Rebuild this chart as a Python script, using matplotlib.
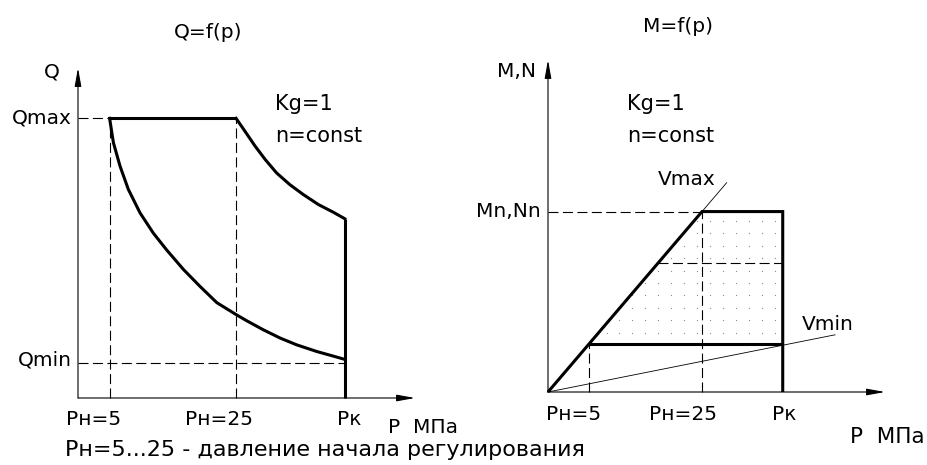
import numpy as np
import matplotlib.pyplot as plt
from matplotlib.patches import Polygon

plt.rcParams['font.family'] = 'DejaVu Sans'
plt.rcParams['font.size'] = 14.5

W, H = 928, 465

# ---- left chart: Q = f(p) ----
p_left = [5, 25, 42.2]                      # Pн=5, Pн=25, Pк
p_left_labels = ['Рн=5', 'Рн=25', 'Рк']
q_max = 1.0
q_min = 0.125
q_upper_p = [25, 26.4, 28.0, 29.6, 31.4, 33.5, 35.6, 38.0, 40.4, 42.2]
q_upper = [1.0, 0.954, 0.901, 0.853, 0.805, 0.763, 0.728, 0.692, 0.664, 0.641]
q_lower_p = [5, 5.6, 6.65, 7.96, 9.81, 11.9, 14.0, 16.7, 19.3, 21.95, 25.1,
             26.7, 29.3, 32.0, 34.6, 37.8, 40.5, 42.2]
q_lower = [1.0, 0.913, 0.829, 0.746, 0.662, 0.590, 0.530, 0.459, 0.399, 0.341, 0.297,
           0.276, 0.244, 0.214, 0.190, 0.166, 0.149, 0.138]

# ---- right chart: M = f(p) ----
p_right = [6.65, 25, 38.1]
p_right_labels = ['Рн=5', 'Рн=25', 'Рк']
m_n = 1.0
m_low = 0.266
m_mid = 0.717
vmax_end = (29.0, 1.16)
vmin_end = (46.6, 0.317)

dash = (0, (9, 4))


def px(x, y):
    """pixel position -> figure fraction"""
    return x / W, 1 - y / H


def arrows(ax):
    ax.set_axis_off()
    kw = dict(arrowstyle='-|>,head_length=0.55,head_width=0.1', lw=0.8,
              color='k', mutation_scale=20, shrinkA=0, shrinkB=0)
    ax.annotate('', xy=(1, 0), xytext=(0, 0), xycoords='axes fraction', arrowprops=kw)
    ax.annotate('', xy=(0, 1), xytext=(0, 0), xycoords='axes fraction', arrowprops=kw)


def tick_labels(ax, pos, labels, dxs, dy):
    for p, lab, dx in zip(pos, labels, dxs):
        ax.annotate(lab, xy=(p, 0), xytext=(dx, dy), textcoords='offset pixels',
                    ha='center', va='baseline')


fig = plt.figure(figsize=(W / 100, H / 100), dpi=100)

# left
ax1 = fig.add_axes([78 / W, 67 / H, 337 / W, 330 / H])
ax1.set_xlim(0, 53.3)
ax1.set_ylim(0, 1.18)
arrows(ax1)
thin = dict(color='k', lw=0.8, ls=dash, clip_on=False)
ax1.plot([0, p_left[0]], [q_max, q_max], **thin)
ax1.plot([p_left[0], p_left[0]], [0, q_max], **thin)
ax1.plot([p_left[1], p_left[1]], [0, q_max], **thin)
ax1.plot([0, p_left[2]], [q_min, q_min], **thin)
thick = dict(color='k', lw=2.2, clip_on=False, solid_capstyle='butt', solid_joinstyle='miter')
ax1.plot([p_left[0], p_left[1]], [q_max, q_max], **thick)
ax1.plot(q_upper_p, q_upper, color='k', lw=2.2, clip_on=False, solid_joinstyle='round')
ax1.plot([p_left[2], p_left[2]], [q_upper[-1], 0], **thick)
ax1.plot(q_lower_p, q_lower, color='k', lw=2.2, clip_on=False, solid_joinstyle='round')

ax1.annotate('Qmax', xy=(0, q_max), xytext=(-6, 0), textcoords='offset pixels',
             ha='right', va='center')
ax1.annotate('Qmin', xy=(0, q_min), xytext=(-6, 3), textcoords='offset pixels',
             ha='right', va='center')
ax1.annotate('Q', xy=(0, 1), xycoords='axes fraction', xytext=(-26, -4),
             textcoords='offset pixels', ha='center', va='center')
tick_labels(ax1, p_left, p_left_labels, [-16, -17, 4], -27)

fig.text(*px(208, 32), 'Q=f(p)', ha='center', va='center')
fig.text(*px(275, 110), 'Kg=1', ha='left', va='baseline', fontsize=15)
fig.text(*px(275, 142), 'n=const', ha='left', va='baseline', fontsize=15)
fig.text(*px(388, 433), 'Р  МПа', ha='left', va='baseline')

# right
ax2 = fig.add_axes([548 / W, 73 / H, 337 / W, 332 / H])
ax2.set_xlim(0, 54.7)
ax2.set_ylim(0, 1.84)
arrows(ax2)

region = Polygon([(p_right[0], m_low), (p_right[1], m_n), (p_right[2], m_n),
                  (p_right[2], m_low)], closed=True, fill=False, lw=0)
ax2.add_patch(region)
gx, gy = np.meshgrid(np.arange(26.3 - 2.1 * 11, 38.5, 2.1), np.arange(0.328, 0.98, 0.069))
dots = ax2.scatter(gx.ravel(), gy.ravel(), s=0.8, color='#8a8a8a', lw=0)
dots.set_clip_path(region)

ax2.plot([0, p_right[1]], [m_n, m_n], **thin)
ax2.plot([p_right[1], p_right[1]], [0, m_n], **thin)
ax2.plot([p_right[0], p_right[0]], [0, m_low], **thin)
ax2.plot([p_right[1] * m_mid / m_n, p_right[2]], [m_mid, m_mid], **thin)
ax2.plot([0, vmax_end[0]], [0, vmax_end[1]], color='k', lw=0.6, clip_on=False)
ax2.plot([0, vmin_end[0]], [0, vmin_end[1]], color='k', lw=0.6, clip_on=False)
ax2.plot([0, p_right[1], p_right[2], p_right[2]], [0, m_n, m_n, 0], **thick)
ax2.plot([p_right[0], p_right[2]], [m_low, m_low], **thick)

ax2.annotate('Mn,Nn', xy=(0, m_n), xytext=(-7, -5), textcoords='offset pixels',
             ha='right', va='baseline')
ax2.annotate('M,N', xy=(0, 1), xycoords='axes fraction', xytext=(-12, -17),
             textcoords='offset pixels', ha='right', va='baseline')
tick_labels(ax2, p_right, p_right_labels, [-15, -19, 1], -28)

fig.text(*px(678, 26), 'M=f(p)', ha='center', va='center')
fig.text(*px(627, 110), 'Kg=1', ha='left', va='baseline', fontsize=15)
fig.text(*px(627, 142), 'n=const', ha='left', va='baseline', fontsize=15)
fig.text(*px(658, 185), 'Vmax', ha='left', va='baseline')
fig.text(*px(802, 330), 'Vmin', ha='left', va='baseline')
fig.text(*px(850, 443), 'Р  МПа', ha='left', va='baseline', fontsize=15.5)

fig.text(*px(65, 456), 'Рн=5...25 - давление начала регулирования', ha='left',
         va='baseline', fontsize=16)

fig.savefig('out.png', dpi=100)
